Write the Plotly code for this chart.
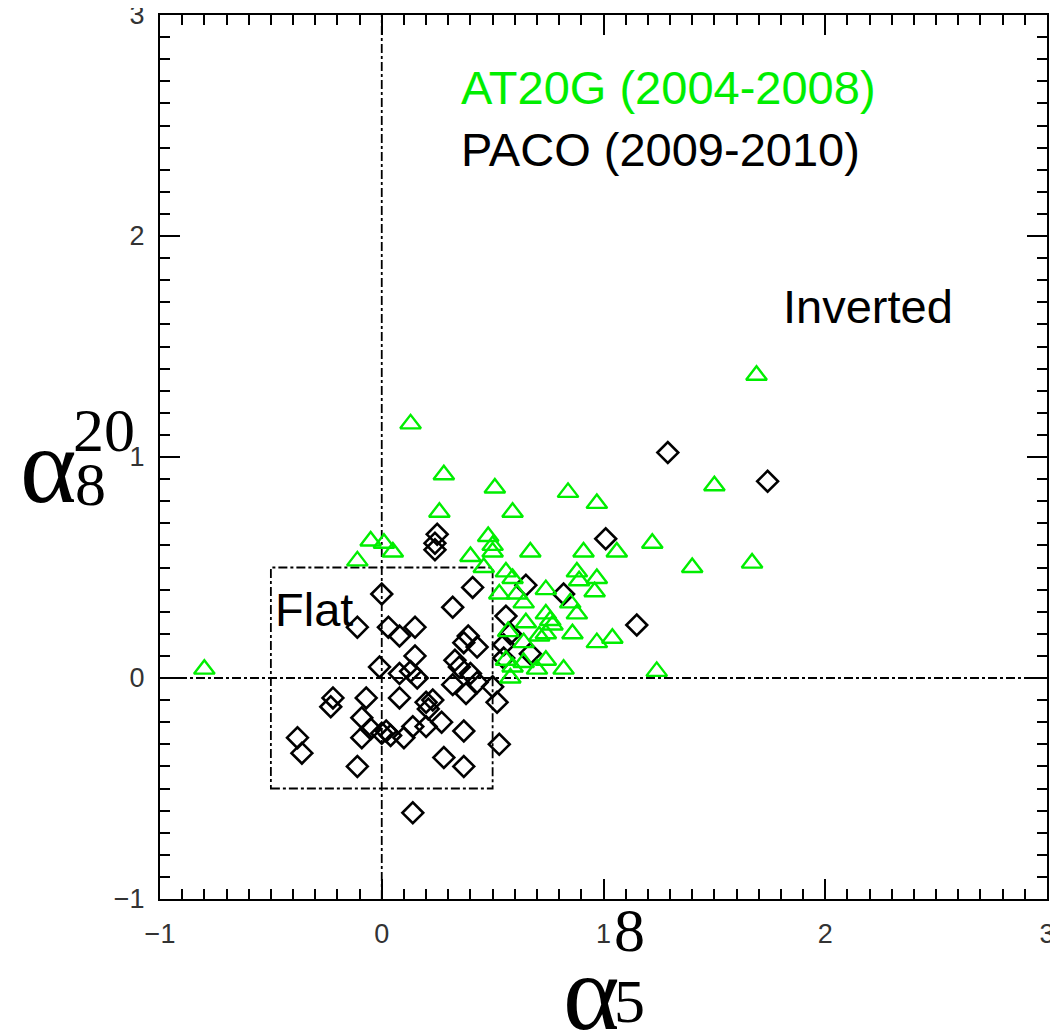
import plotly.graph_objects as go

# AT20G (2004-2008) green triangles: alpha_5^8, alpha_8^20
at20g_x = [-0.80, 0.13, 0.28, 0.26, 0.51, 0.59, 0.97, 0.84, 1.69, 1.50, 1.22, 1.06, 0.91, 0.67,
           0.48, 0.50, 0.50, 0.40, -0.05, 0.01, 0.05, -0.11, 0.46, 0.56, 0.59, 0.53, 0.61, 0.64,
           0.74, 0.88, 0.89, 0.97, 0.96, 0.85, 0.88, 0.65, 0.74, 0.76, 0.77, 0.74, 0.71, 0.86,
           0.97, 1.04, 0.57, 0.64, 0.56, 0.59, 0.64, 0.74, 0.70, 0.82, 0.58, 1.24, 1.40, 1.67]
at20g_y = [0.04, 1.15, 0.92, 0.75, 0.86, 0.75, 0.79, 0.84, 1.37, 0.87, 0.61, 0.57, 0.57, 0.57,
           0.64, 0.60, 0.57, 0.55, 0.62, 0.61, 0.57, 0.53, 0.50, 0.48, 0.45, 0.38, 0.38, 0.34,
           0.40, 0.48, 0.44, 0.45, 0.39, 0.34, 0.29, 0.25, 0.29, 0.26, 0.24, 0.20, 0.19, 0.20,
           0.16, 0.18, 0.21, 0.16, 0.08, 0.05, 0.07, 0.08, 0.04, 0.04, 0.00, 0.03, 0.50, 0.52]

# PACO (2009-2010) black diamonds
paco_x = [1.29, 1.74, 1.01, 1.15, 0.82, 0.65, 0.41, 0.32, 0.25, 0.24, 0.24, 0.00, -0.11, 0.03,
          0.08, 0.15, 0.56, 0.58, 0.55, 0.55, 0.67, 0.43, 0.39, 0.37, 0.15, 0.33, 0.35, 0.40,
          0.43, 0.08, 0.13, 0.16, -0.01, 0.32, 0.38, 0.50, 0.52, 0.08, 0.20, 0.23, 0.21, 0.27,
          0.37, 0.20, 0.14, 0.10, 0.02, 0.00, 0.04, 0.53, 0.28, 0.37, 0.14, -0.22, -0.23, -0.07,
          -0.09, -0.09, -0.38, -0.36, -0.11, -0.05]
paco_y = [1.02, 0.89, 0.63, 0.24, 0.38, 0.42, 0.41, 0.32, 0.65, 0.61, 0.58, 0.38, 0.23, 0.23,
          0.19, 0.23, 0.28, 0.20, 0.15, 0.09, 0.11, 0.14, 0.19, 0.16, 0.10, 0.08, 0.05, 0.02,
          -0.02, 0.02, 0.03, 0.00, 0.05, -0.03, -0.07, -0.04, -0.11, -0.09, -0.11, -0.10, -0.14, -0.20,
          -0.24, -0.22, -0.22, -0.27, -0.24, -0.25, -0.26, -0.30, -0.36, -0.40, -0.61, -0.09, -0.13, -0.09,
          -0.18, -0.27, -0.27, -0.34, -0.40, -0.23]

x_ticks = [-1, 0, 1, 2, 3]
y_ticks = [-1, 0, 1, 2, 3]
tick_text = ["\u22121", "0", "1", "2", "3"]

# the page body has an 8px margin, so the figure is sized to fit the window
OFF = 8
W, H = 1050, 1024
L, R, T, B = 152, 11, 7, 133
PW, PH = W - L - R, H - T - B


def px(xp):
    return (xp - OFF - L) / PW


def py(yp):
    return (H - B - (yp - OFF)) / PH


fig = go.Figure()
fig.add_trace(go.Scatter(x=paco_x, y=paco_y, mode="markers", name="PACO (2009-2010)",
                         marker=dict(symbol="diamond-open", size=16, color="black",
                                     line=dict(width=2.6, color="black"))))
fig.add_trace(go.Scatter(x=at20g_x, y=at20g_y, mode="markers", name="AT20G (2004-2008)",
                         marker=dict(symbol="triangle-up-open", size=18, color="#00ee00",
                                     line=dict(width=2.4, color="#00ee00"))))

dash_line = dict(color="black", width=1.8, dash="dashdot")
fig.add_shape(type="line", x0=0, x1=0, y0=-1, y1=3, line=dash_line, layer="below")
fig.add_shape(type="line", x0=-1, x1=3, y0=0, y1=0, line=dash_line, layer="below")
fig.add_shape(type="rect", x0=-0.5, x1=0.5, y0=-0.5, y1=0.5, line=dash_line, layer="below")

txt_font = dict(family="Liberation Sans, Arial", size=47, color="black")
fig.add_annotation(x=0.35, y=2.67, text="AT20G (2004-2008)", showarrow=False, xanchor="left",
                   yanchor="middle", font=dict(family="Liberation Sans, Arial", size=47, color="#00ee00"))
fig.add_annotation(x=0.35, y=2.39, text="PACO (2009-2010)", showarrow=False, xanchor="left",
                   yanchor="middle", font=txt_font)
fig.add_annotation(x=1.80, y=1.68, text="Inverted", showarrow=False, xanchor="left",
                   yanchor="middle", font=txt_font)
fig.add_annotation(x=-0.49, y=0.31, text="Flat", showarrow=False, xanchor="left",
                   yanchor="middle", font=txt_font)

serif = "Liberation Serif, Times New Roman, serif"
big = dict(family=serif, size=108, color="black")
small = dict(family=serif, size=62, color="black")


def label(text, xp, yp, font):
    fig.add_annotation(xref="paper", yref="paper", x=px(xp), y=py(yp), text=text,
                       showarrow=False, xanchor="center", yanchor="middle", font=font)


# x-axis label: alpha_5^8
label("\u03b1", 591, 992, big)
label("8", 629, 930, small)
label("5", 629, 1001, small)
# y-axis label: alpha_8^20
label("\u03b1", 49, 466, big)
label("20", 104, 430, small)
label("8", 90, 484, small)

axis_common = dict(showgrid=False, zeroline=False, showline=True, linecolor="black", linewidth=2,
                   mirror="allticks", ticks="inside", ticklen=20, tickwidth=2, tickcolor="black",
                   ticklabeloverflow="allow",
                   tickfont=dict(family="Liberation Sans Narrow, Liberation Sans, Arial", size=27, color="#333333"),
                   minor=dict(ticks="inside", ticklen=10, tickwidth=2, tickcolor="black", dtick=0.1,
                              showgrid=False))
fig.update_xaxes(range=[-1, 3], tickvals=x_ticks, ticktext=tick_text, ticklabelstandoff=10, **axis_common)
fig.update_yaxes(range=[-1, 3], tickvals=y_ticks, ticktext=tick_text, ticklabelstandoff=8, **axis_common)

fig.update_layout(width=W, height=H, margin=dict(l=L, r=R, t=T, b=B, autoexpand=False),
                  plot_bgcolor="white", paper_bgcolor="white", showlegend=False)
fig.write_html("out.html")
